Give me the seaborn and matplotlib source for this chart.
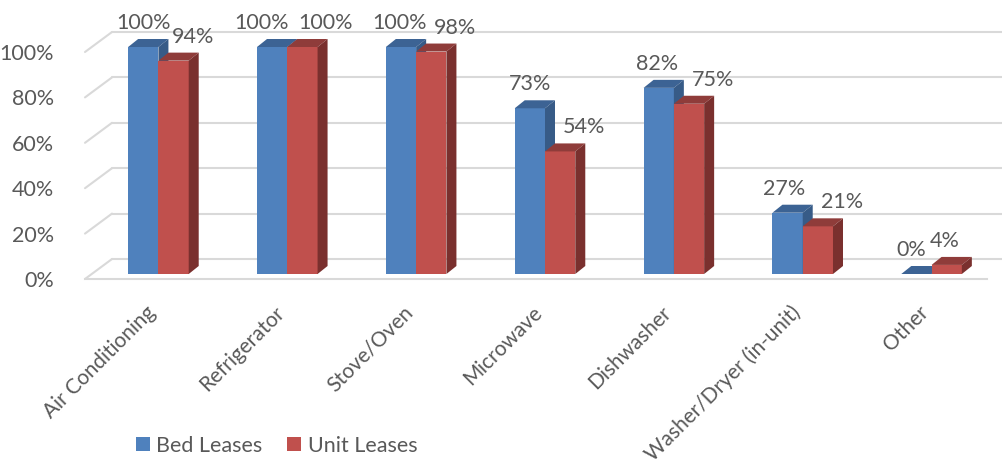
import matplotlib
matplotlib.use("Agg")
import matplotlib.pyplot as plt
from matplotlib.lines import Line2D
from matplotlib.patches import Polygon
from matplotlib.transforms import IdentityTransform, ScaledTranslation, offset_copy
from matplotlib.ticker import PercentFormatter
import seaborn as sns
import pandas as pd

# ---- data -------------------------------------------------------------
categories = ["Air Conditioning", "Refrigerator", "Stove/Oven", "Microwave",
              "Dishwasher", "Washer/Dryer (in-unit)", "Other"]
series_names = ["Bed Leases", "Unit Leases"]
bed_leases = [1.00, 1.00, 1.00, 0.73, 0.82, 0.27, 0.00]
unit_leases = [0.94, 1.00, 0.98, 0.54, 0.75, 0.21, 0.04]
y_ticks = [0.0, 0.2, 0.4, 0.6, 0.8, 1.0]

# ---- style ------------------------------------------------------------
sns.set_theme(style="white")
plt.rcParams["font.family"] = ["Lato", "DejaVu Sans"]
TEXT = "#595959"
GRID = "#d9d9d9"
front_colors = ["#4f81bd", "#c0504d"]
top_colors = ["#3c6394", "#8f3c3a"]
side_colors = ["#375b87", "#7a302e"]
FS = 15.5
FS_X = 15
FS_LEG = 15.5

W, H, DPI = 1002, 466, 100
fig = plt.figure(figsize=(W / DPI, H / DPI), dpi=DPI)

# plane of the column fronts (pixels)
L, R, B, T = 94, 996, 274, 47
ax = fig.add_axes([L / W, (H - B) / H, (R - L) / W, (B - T) / H], zorder=2)
# front edge of the floor, a little lower-left of the column plane
FX, FY = -9, -5
ax_front = fig.add_axes([(L + FX) / W, (H - B + FY) / H, (R - L) / W, (B - T) / H],
                        sharex=ax, sharey=ax, zorder=1)
# back wall offset
BX, BY = 18, 15
# column depth offset
DX, DY = 10, 8

df = pd.DataFrame({
    "category": categories * 2,
    "series": [series_names[0]] * len(categories) + [series_names[1]] * len(categories),
    "value": bed_leases + unit_leases,
})
sns.barplot(data=df, x="category", y="value", hue="series", order=categories,
            hue_order=series_names, palette=front_colors, width=0.47, gap=0,
            linewidth=0, saturation=1, ax=ax, legend=False, zorder=3)
ax.set_xlim(-0.5, len(categories) - 0.5)
ax.set_ylim(0, 1)
ax.set_yticks(y_ticks)
ax.yaxis.set_major_formatter(PercentFormatter(1.0, decimals=0))
for a in (ax, ax_front):
    a.set_facecolor("none")
    a.set_xlabel("")
    a.set_ylabel("")
    for s in a.spines.values():
        s.set_visible(False)
ax.tick_params(left=False, bottom=False, labelleft=False, labelbottom=False)
ax_front.tick_params(left=False, bottom=False, labelcolor=TEXT)
ax_front.tick_params(axis="y", pad=23 * 0.72, labelsize=FS)
ax_front.tick_params(axis="x", pad=15 * 0.72, labelsize=FS_X)
ax_front.spines["bottom"].set_visible(True)
ax_front.spines["bottom"].set_color(GRID)
ax_front.spines["bottom"].set_linewidth(1.5)
nudge = ScaledTranslation(-4 / DPI, 0, fig.dpi_scale_trans)
for lab in ax_front.get_xticklabels():
    lab.set_rotation(45)
    lab.set_ha("right")
    lab.set_va("top")
    lab.set_rotation_mode("anchor")
    lab.set_transform(lab.get_transform() + nudge)

# back wall gridlines with slanted left edges (behind the columns)
ident = IdentityTransform()
for t in y_ticks:
    x0, y0 = ax.transData.transform((-0.5, t))
    ax_front.add_artist(Line2D([x0 + FX, x0 + BX], [y0 + FY, y0 + BY], color=GRID,
                               lw=1.5, transform=ident, clip_on=False))
    ax_front.add_artist(Line2D([x0 + BX, W + 20], [y0 + BY, y0 + BY], color=GRID,
                               lw=1.5, transform=ident, clip_on=False))

# top and side faces of each column
for k, cont in enumerate(ax.containers):
    for p in cont.patches:
        bx, bw, bh = p.get_x(), p.get_width(), p.get_height()
        X0, Y0 = ax.transData.transform((bx, 0))
        X1, Yh = ax.transData.transform((bx + bw, bh))
        top = [(X0, Yh), (X1, Yh), (X1 + DX, Yh + DY), (X0 + DX, Yh + DY)]
        side = [(X1, Y0), (X1, Yh), (X1 + DX, Yh + DY), (X1 + DX, Y0 + DY)]
        ax.add_patch(Polygon(top, closed=True, facecolor=top_colors[k], lw=0,
                             transform=ident, clip_on=False, zorder=3 + k))
        ax.add_patch(Polygon(side, closed=True, facecolor=side_colors[k], lw=0,
                             transform=ident, clip_on=False, zorder=3 + k))
        p.set_zorder(3 + k)

# value labels
label_shift = [[0, -11, -1, 0, -2, -3, -5], [19, 23, 24, 24, 24, 24, -2]]
for k, cont in enumerate(ax.containers):
    vals = [bed_leases, unit_leases][k]
    for i, (p, v) in enumerate(zip(cont.patches, vals)):
        tr = offset_copy(ax.transData, fig=fig, x=label_shift[k][i], y=18, units="dots")
        ax.text(p.get_x() + p.get_width() / 2, v, f"{v:.0%}", transform=tr,
                ha="center", va="baseline", fontsize=FS, color=TEXT, zorder=10,
                clip_on=False)

# legend
handles = [Line2D([], [], ls="none", marker="s", markersize=10, markeredgewidth=0,
                  markerfacecolor=c) for c in front_colors]
fig.legend(handles, series_names, loc="center left",
           bbox_to_anchor=(136 / W, (H - 446) / H), ncol=2, frameon=False,
           fontsize=FS_LEG, labelcolor=TEXT, borderpad=0, borderaxespad=0,
           handlelength=0.65, handletextpad=0.3, columnspacing=1.15)

fig.savefig("out.png", dpi=DPI, facecolor="white")
